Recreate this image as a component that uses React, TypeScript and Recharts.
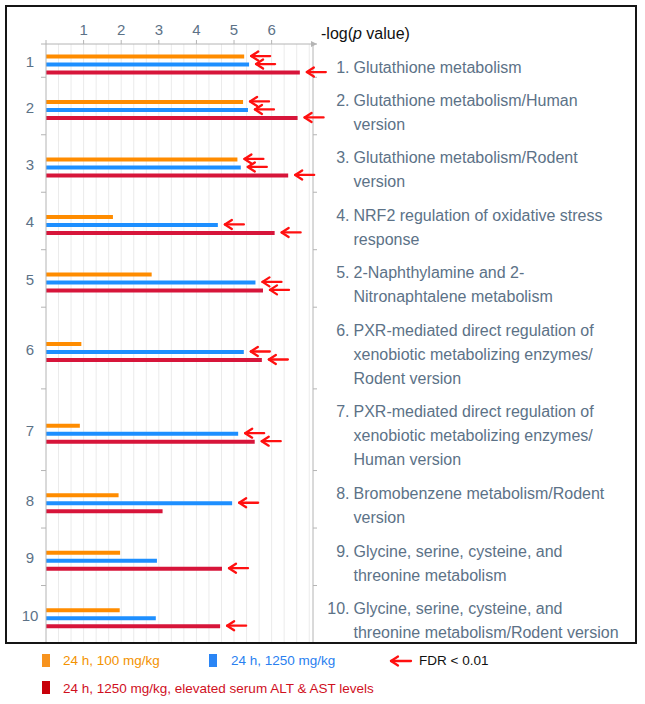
import React from 'react';
import { BarChart, Bar, XAxis, YAxis, CartesianGrid, Legend, LabelList, Label } from 'recharts';

const FONT = '"Liberation Sans", Arial, Helvetica, sans-serif';
const TEXT = '#5c7287';
const AXIS = '#b4b4b4';
const ARROW = '#ff1010';

const ORANGE = '#ff8c00';
const BLUE = '#1e8fff';
const RED = '#d7153a';

// pathway numbers and their names, one entry per text line
const pathwayIds = [1, 2, 3, 4, 5, 6, 7, 8, 9, 10];
const pathwayLabels: string[][] = [
  ['Glutathione metabolism'],
  ['Glutathione metabolism/Human', 'version'],
  ['Glutathione metabolism/Rodent', 'version'],
  ['NRF2 regulation of oxidative stress', 'response'],
  ['2-Naphthylamine and 2-', 'Nitronaphtalene metabolism'],
  ['PXR-mediated direct regulation of', 'xenobiotic metabolizing enzymes/', 'Rodent version'],
  ['PXR-mediated direct regulation of', 'xenobiotic metabolizing enzymes/', 'Human version'],
  ['Bromobenzene metabolism/Rodent', 'version'],
  ['Glycine, serine, cysteine, and', 'threonine metabolism'],
  ['Glycine, serine, cysteine, and', 'threonine metabolism/Rodent version'],
];

// -log(p value)
const dose100 = [5.27, 5.24, 5.09, 1.78, 2.81, 0.94, 0.9, 1.93, 1.97, 1.96];
const dose1250 = [5.4, 5.37, 5.18, 4.57, 5.57, 5.26, 5.11, 4.95, 2.95, 2.92];
const dose1250Alt = [6.75, 6.69, 6.44, 6.08, 5.77, 5.74, 5.55, 3.1, 4.68, 4.63];

// FDR < 0.01 flags (1 = arrow)
const fdr100 = [1, 1, 1, 0, 0, 0, 0, 0, 0, 0];
const fdr1250 = [1, 1, 1, 1, 1, 1, 1, 1, 0, 0];
const fdr1250Alt = [1, 1, 1, 1, 1, 1, 1, 0, 1, 1];

const seriesNames = ['24 h, 100 mg/kg', '24 h, 1250 mg/kg', '24 h, 1250 mg/kg, elevated serum ALT & AST levels'];
const xTicks = [0, 1, 2, 3, 4, 5, 6];

// each group is as tall as its label text block
const LINE_H = 24;
const GROUP_PAD = 9;
const groupTop: number[] = [];
let acc = 0;
pathwayLabels.forEach((lines) => {
  groupTop.push(acc);
  acc += GROUP_PAD + LINE_H * lines.length;
});
const TOTAL = acc;
const bounds = [...groupTop, TOTAL];
const groupMid = groupTop.map((t, i) => (t + bounds[i + 1]) / 2);
const numberPos = groupMid.map((m) => m + 1);

const data = pathwayIds.map((id, i) => ({
  id,
  pos: groupMid[i] + 3.6,
  dose100: dose100[i],
  dose1250: dose1250[i],
  dose1250Alt: dose1250Alt[i],
  fdr100: fdr100[i],
  fdr1250: fdr1250[i],
  fdr1250Alt: fdr1250Alt[i],
}));

const gridValues = Array.from({ length: 21 }, (_, i) => (i + 1) / 3);

const LeftTick = (props: any) => {
  const { x, y, payload } = props;
  const n = numberPos.indexOf(payload.value);
  if (n >= 0) {
    return (
      <text x={x - 16} y={y} dy={5.5} textAnchor="middle" fontSize={15} fill={TEXT} fontFamily={FONT}>
        {pathwayIds[n]}
      </text>
    );
  }
  return <line x1={x - 5} x2={x} y1={y} y2={y} stroke={AXIS} />;
};

const RightTick = (props: any) => {
  const { x, y, payload } = props;
  const gi = groupTop.indexOf(payload.value);
  return (
    <g>
      <line x1={x} x2={x + 4} y1={y} y2={y} stroke={AXIS} />
      {gi >= 0 &&
        pathwayLabels[gi].map((ln, k) => (
          <g key={k}>
            {k === 0 && (
              <text x={x + 36.5} y={y + 28.5} textAnchor="end" fontSize={16} fill={TEXT} fontFamily={FONT}>
                {pathwayIds[gi] + '.'}
              </text>
            )}
            <text x={x + 40.5} y={y + 28.5 + LINE_H * k} fontSize={16} fill={TEXT} fontFamily={FONT}>
              {ln}
            </text>
          </g>
        ))}
    </g>
  );
};

const AxisTitle = (props: any) => {
  const vb = props.viewBox;
  const ax = vb.x + vb.width;
  const ay = vb.y + vb.height;
  return (
    <g>
      <path d={`M${ax - 2} ${ay - 3} L${ax + 4} ${ay} L${ax - 2} ${ay + 3} Z`} fill={AXIS} />
      <text x={ax + 8} y={ay - 5} fontSize={16} fill="#111" fontFamily={FONT}>
        -log(<tspan fontStyle="italic">p</tspan> value)
      </text>
    </g>
  );
};

const FdrArrow = (props: any) => {
  if (!props.value) return null;
  const vb = props.viewBox ?? props;
  const tip = vb.x + vb.width + 7;
  const cy = vb.y + vb.height / 2 - 0.5;
  return (
    <g stroke={ARROW} strokeWidth={2.3} fill="none" strokeLinecap="round" strokeLinejoin="round">
      <line x1={tip} y1={cy} x2={tip + 19} y2={cy} />
      <polyline points={`${tip + 7},${cy - 4.5} ${tip},${cy} ${tip + 7},${cy + 4.5}`} />
    </g>
  );
};

const LegendBox = (props: any) => {
  const items = props.payload || [];
  const name = (i: number) => (items[i] && items[i].value) || seriesNames[i];
  const txt: React.CSSProperties = { position: 'absolute', fontSize: 13.5, lineHeight: '16px', whiteSpace: 'nowrap', fontFamily: FONT };
  const sq = (left: number, top: number, c: string) => (
    <div style={{ position: 'absolute', left, top, width: 8, height: 13, background: c }} />
  );
  return (
    <div style={{ position: 'relative', width: 645, height: 56 }}>
      {sq(42, 9, '#f7931e')}
      <div style={{ ...txt, left: 63, top: 8, color: '#f39200' }}>{name(0)}</div>
      {sq(209, 9, '#2a85f5')}
      <div style={{ ...txt, left: 231, top: 8, color: '#2a7ff0' }}>{name(1)}</div>
      <svg style={{ position: 'absolute', left: 388, top: 8 }} width={26} height={16}>
        <g stroke={ARROW} strokeWidth={2.3} fill="none" strokeLinecap="round" strokeLinejoin="round">
          <line x1={3} y1={8} x2={23} y2={8} />
          <polyline points="10,3.5 3,8 10,12.5" />
        </g>
      </svg>
      <div style={{ ...txt, left: 419, top: 8, color: '#111' }}>FDR &lt; 0.01</div>
      {sq(42, 36, '#c8000a')}
      <div style={{ ...txt, left: 63, top: 36, color: '#d0101e' }}>{name(2)}</div>
    </div>
  );
};

export default function App() {
  return (
    <div style={{ position: 'absolute', left: 0, top: 0, width: 645, height: 704, background: '#fff', fontFamily: FONT }}>
      <BarChart
        width={645}
        height={704}
        data={data}
        layout="vertical"
        margin={{ top: 14, right: 2, bottom: 61, left: 0 }}
        barSize={4}
        barGap={4}
        style={{ fontFamily: FONT }}
      >
        <CartesianGrid horizontal={false} vertical={true} verticalValues={gridValues} stroke="#ebebeb" />
        <XAxis
          type="number"
          orientation="top"
          domain={[0, 7.1]}
          ticks={xTicks}
          interval={0}
          height={30}
          tickSize={4}
          tickMargin={5}
          tickFormatter={(v: number) => (v === 0 ? '' : String(v))}
          tick={{ fill: TEXT, fontSize: 15, fontFamily: FONT }}
          tickLine={{ stroke: AXIS }}
          axisLine={{ stroke: AXIS }}
        >
          <Label content={AxisTitle} />
        </XAxis>
        <YAxis
          yAxisId="left"
          type="number"
          dataKey="pos"
          domain={[0, TOTAL]}
          ticks={[...bounds, ...numberPos]}
          interval={0}
          width={46}
          tickSize={0}
          tickMargin={0}
          tickLine={false}
          tick={<LeftTick />}
          axisLine={{ stroke: AXIS }}
        />
        <YAxis
          yAxisId="right"
          orientation="right"
          type="number"
          dataKey="pos"
          domain={[0, TOTAL]}
          ticks={bounds}
          interval={0}
          width={330}
          tickSize={0}
          tickMargin={0}
          tickLine={false}
          tick={<RightTick />}
          axisLine={{ stroke: AXIS }}
        />
        <Legend
          layout="horizontal"
          verticalAlign="middle"
          align="center"
          wrapperStyle={{ top: 645, left: 0, width: 645 }}
          content={<LegendBox />}
        />
        <Bar yAxisId="left" dataKey="dose100" name={seriesNames[0]} fill={ORANGE} isAnimationActive={false}>
          <LabelList dataKey="fdr100" content={FdrArrow} />
        </Bar>
        <Bar yAxisId="left" dataKey="dose1250" name={seriesNames[1]} fill={BLUE} isAnimationActive={false}>
          <LabelList dataKey="fdr1250" content={FdrArrow} />
        </Bar>
        <Bar yAxisId="left" dataKey="dose1250Alt" name={seriesNames[2]} fill={RED} isAnimationActive={false}>
          <LabelList dataKey="fdr1250Alt" content={FdrArrow} />
        </Bar>
      </BarChart>
      <div
        style={{
          position: 'absolute',
          left: 5,
          top: 5,
          width: 632,
          height: 639,
          border: '2px solid #151515',
          boxSizing: 'border-box',
          pointerEvents: 'none',
        }}
      />
    </div>
  );
}
